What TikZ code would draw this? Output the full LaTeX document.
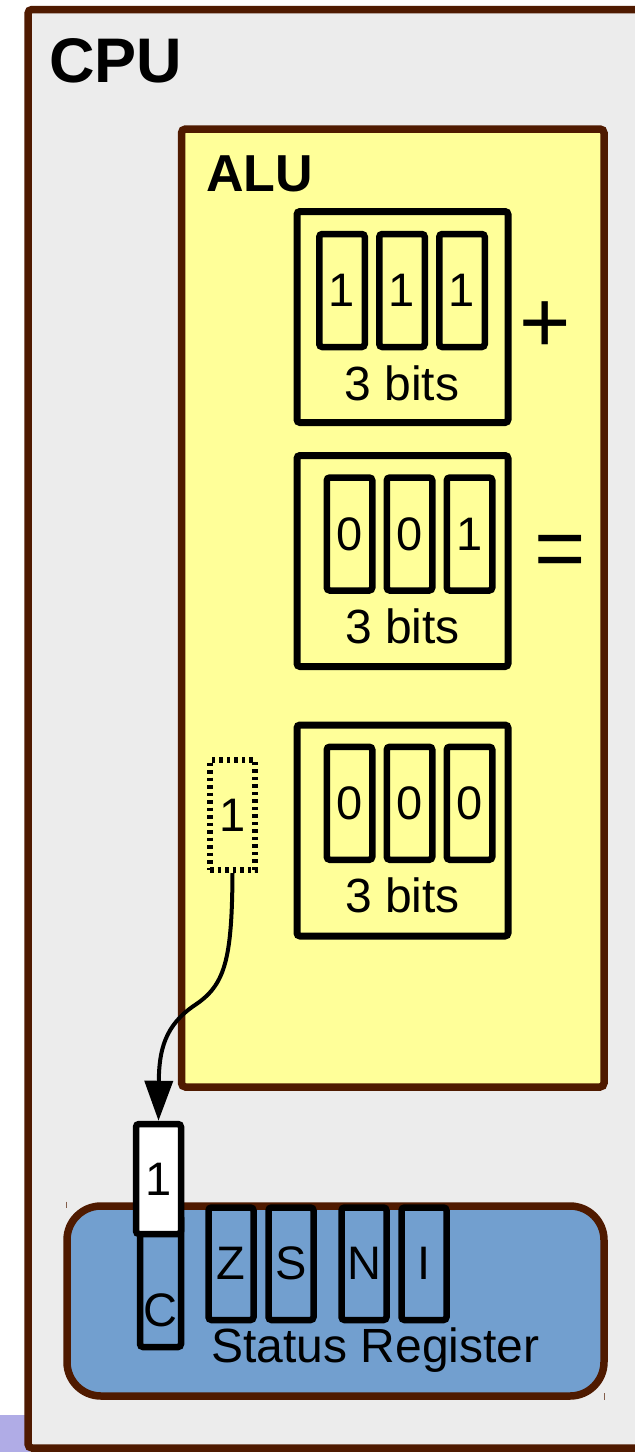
\documentclass[tikz,border=0pt]{standalone}
\usepackage{fontspec}
\setmainfont{Liberation Sans}
\usetikzlibrary{arrows.meta}
\definecolor{framebrown}{HTML}{4F1A00}
\definecolor{cpufill}{HTML}{ECECEC}
\definecolor{alufill}{HTML}{FFFF99}
\definecolor{srfill}{HTML}{729FCF}
\definecolor{purplebit}{HTML}{B0ACE6}
\begin{document}
\begin{tikzpicture}[x=0.5pt,y=-0.5pt,
  frame/.style={draw=framebrown, line width=3.75pt, inner sep=0pt},
  regbox/.style={draw=black, line width=3.5pt, rounded corners=1.5pt, inner sep=0pt,
    minimum width=105.5pt, minimum height=105.5pt},
  cell/.style={draw=black, line width=3.25pt, rounded corners=1.5pt, inner sep=0pt,
    minimum width=22.75pt, minimum height=56.5pt, font=\fontsize{23.5}{27}\selectfont},
  flag/.style={cell, minimum width=22.5pt, minimum height=56.25pt},
  lbl/.style={inner sep=0pt, font=\fontsize{24}{28}\selectfont},
  bigop/.style={inner sep=0pt, font=\fontsize{44}{50}\selectfont},
  conn/.style={draw=black, line width=2pt, -{Triangle[length=20pt,width=14pt]}}
]
\clip (0,0) rectangle (635,1452);
\fill[white] (0,0) rectangle (635,1452);
% fragment of a neighbouring element
\fill[purplebit] (0,1415) rectangle (30,1452);
% CPU
\node[frame, fill=cpufill, rounded corners=2pt, minimum width=326pt, minimum height=719.25pt] (cpu) at (354,728.75) {};
\node[anchor=base west, inner sep=0pt, font=\fontsize{31.5}{36}\selectfont\bfseries] (cpulbl) at (49,82) {CPU};
% ALU
\node[frame, fill=alufill, rounded corners=2pt, minimum width=211.25pt, minimum height=479pt] (alu) at (392.75,608) {};
\node[anchor=base west, inner sep=0pt, font=\fontsize{26}{30}\selectfont\bfseries] (alulbl) at (206,191) {ALU};
% operand A
\node[regbox] (ra) at (402.5,317) {};
\node[cell] (a2) at (342,290.5) {1};
\node[cell] (a1) at (402,290.5) {1};
\node[cell] (a0) at (462,290.5) {1};
\node[lbl, anchor=base] (ral) at (402,400) {3 bits};
\node[bigop] (plus) at (545,327.5) {+};
% operand B
\node[regbox] (rb) at (402.5,561) {};
\node[cell] (b2) at (349.5,534) {0};
\node[cell] (b1) at (409.5,534) {0};
\node[cell] (b0) at (469.5,534) {1};
\node[lbl, anchor=base] (rbl) at (402.5,643) {3 bits};
\node[bigop] (eq) at (560,557) {=};
% result
\node[regbox] (rr) at (402.5,830.5) {};
\node[cell] (r2) at (349.5,803.25) {0};
\node[cell] (r1) at (409.5,803.25) {0};
\node[cell] (r0) at (469.5,803.25) {0};
\node[lbl, anchor=base] (rrl) at (402.5,912) {3 bits};
% carry out (dotted)
\node[draw=black, line width=3pt, dash pattern=on 1.75pt off 2pt, inner sep=0pt,
  minimum width=22.5pt, minimum height=55pt, font=\fontsize{23.5}{27}\selectfont] (cout) at (232.5,815) {1};
% status register
\node[frame, fill=srfill, rounded corners=17pt, minimum width=268.5pt, minimum height=95pt] (sr) at (335.5,1301) {};
\draw[framebrown!70, line width=0.5pt] (66.7,1201.5) -- (66.7,1208);
\draw[framebrown!70, line width=0.5pt] (604.3,1393) -- (604.3,1400);
\node[lbl, anchor=base west] (srl) at (211,1362) {Status Register};
\node[flag] (fz) at (231,1263.75) {Z};
\node[flag] (fs) at (291,1263.75) {S};
\node[flag] (fn) at (364,1263.75) {N};
\node[flag] (fi) at (424,1263.75) {I};
\node[cell, minimum width=20.5pt, minimum height=66pt] (fc) at (160.5,1281) {};
\node[inner sep=0pt, font=\fontsize{23.5}{27}\selectfont] (fcl) at (160.5,1310) {C};
% carry flag value
\node[cell, fill=white, minimum width=22.5pt, minimum height=55pt] (carry) at (158.5,1179) {1};
% connector
\draw[conn] (cout.south) .. controls (232,960) and (225,985) .. (195,1005)
  .. controls (165,1025) and (159,1050) .. (carry.north);
\end{tikzpicture}
\end{document}
